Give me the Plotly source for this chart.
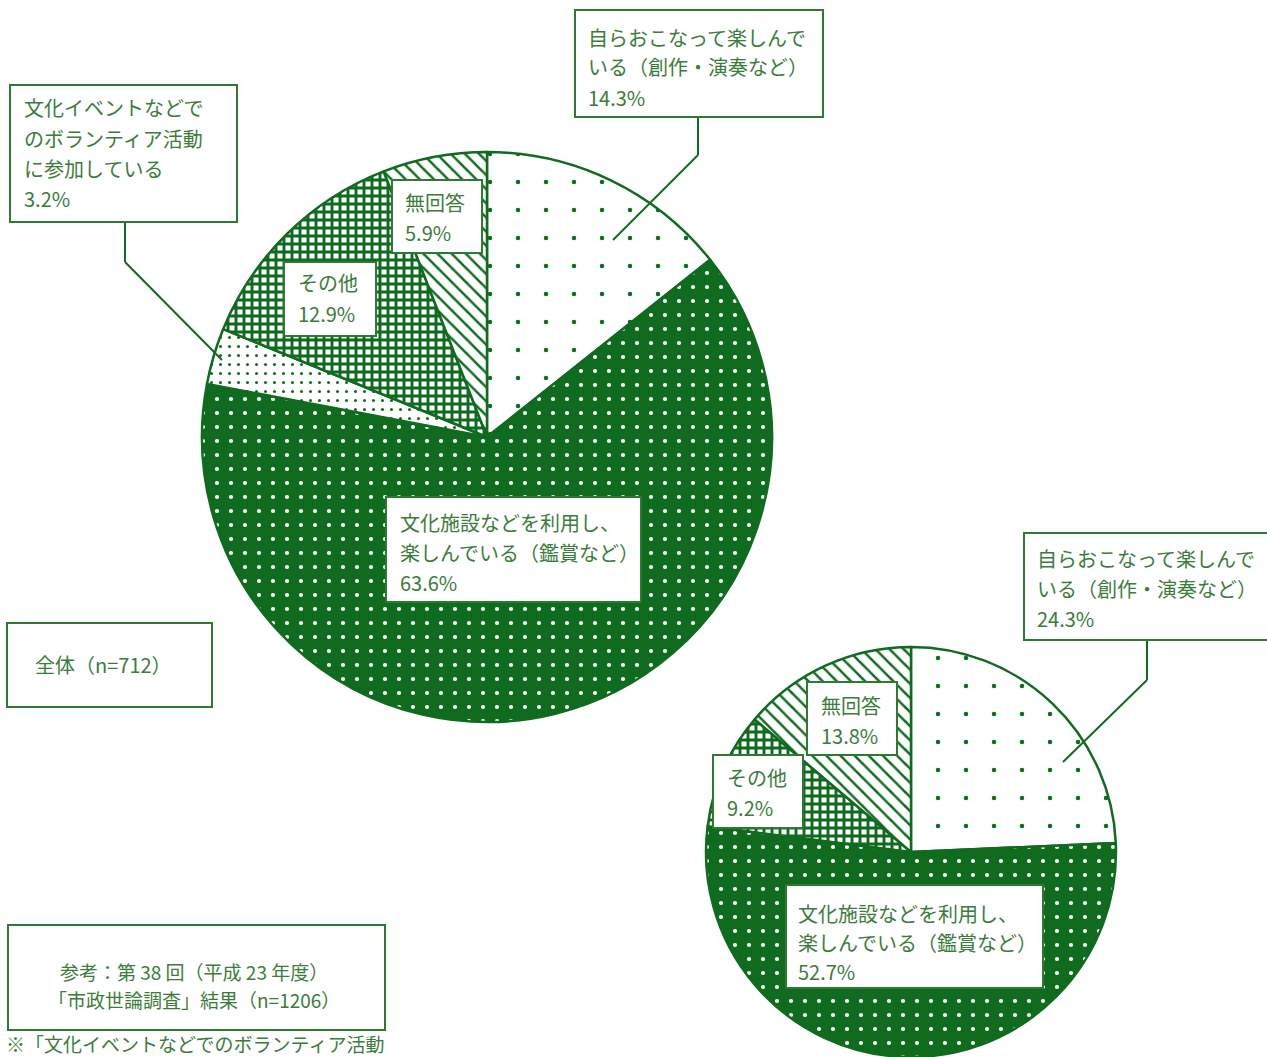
import plotly.graph_objects as go

W, H = 1267, 1057
GREEN = "#0f6b1e"
TEXT = "#3a7d3a"
BORDER = "#2f7a32"
FONT = "Noto Sans CJK JP"

# ---- data ----
cats_all = ["自らおこなって楽しんでいる（創作・演奏など）",
            "文化施設などを利用し、楽しんでいる（鑑賞など）",
            "文化イベントなどでのボランティア活動に参加している",
            "その他", "無回答"]
vals_all = [14.3, 63.6, 3.2, 12.9, 5.9]

cats_ref = ["自らおこなって楽しんでいる（創作・演奏など）",
            "文化施設などを利用し、楽しんでいる（鑑賞など）",
            "その他", "無回答"]
vals_ref = [24.3, 52.7, 9.2, 13.8]

title_all = "全体（n=712）"
title_ref = ["参考：第 38 回（平成 23 年度）", "「市政世論調査」結果（n=1206）"]
note_text = "※「文化イベントなどでのボランティア活動"

# pattern style per category
style = {
    cats_all[0]: dict(shape=".", bg="white", fg=GREEN, size=28, sol=0.02),
    cats_all[1]: dict(shape=".", bg=GREEN, fg="white", size=14, sol=0.07),
    cats_all[2]: dict(shape=".", bg="white", fg=GREEN, size=9, sol=0.09),
    "その他": dict(shape="+", bg="white", fg=GREEN, size=8, sol=0.6),
    "無回答": dict(shape="\\", bg="white", fg=GREEN, size=10, sol=0.25),
}


def px(x):
    return x / W


def py(y):
    return 1 - y / H


def pie(cats, vals, dom_x, dom_y):
    st = [style[c] for c in cats]
    return go.Pie(
        labels=cats, values=vals, sort=False, direction="clockwise",
        rotation=0, textinfo="none", hoverinfo="label+value",
        showlegend=False,
        domain=dict(x=dom_x, y=dom_y),
        marker=dict(
            colors=[s["bg"] for s in st],
            line=dict(color=GREEN, width=2.5),
            pattern=dict(
                shape=[s["shape"] for s in st],
                bgcolor=[s["bg"] for s in st],
                fgcolor=[s["fg"] for s in st],
                size=[s["size"] for s in st],
                solidity=[s["sol"] for s in st],
                fillmode="replace",
            ),
        ),
    )


fig = go.Figure()
fig.add_trace(pie(cats_all, vals_all, [px(202), px(772)], [py(722), py(152)]))
fig.add_trace(pie(cats_ref, vals_ref, [px(706), px(1116)], [0, py(647)]))

shapes = []
annots = []


def box(x0, y0, x1, y1, lines, tx, ty, dy=30, size=20, anchor="left"):
    shapes.append(dict(type="rect", xref="paper", yref="paper",
                       x0=px(x0), x1=px(x1), y0=py(y1), y1=py(y0),
                       fillcolor="white", line=dict(color=BORDER, width=2),
                       layer="above"))
    for i, t in enumerate(lines):
        annots.append(dict(text=t, xref="paper", yref="paper",
                           x=px(tx), y=py(ty + i * dy), xanchor=anchor,
                           yanchor="middle", showarrow=False, borderpad=0,
                           font=dict(family=FONT, size=size, color=TEXT)))


def leader(points):
    for (a, b) in zip(points[:-1], points[1:]):
        shapes.append(dict(type="line", xref="paper", yref="paper",
                           x0=px(a[0]), y0=py(a[1]), x1=px(b[0]), y1=py(b[1]),
                           line=dict(color=GREEN, width=2), layer="above"))


# leader lines
leader([(698, 117), (698, 155), (613, 240)])
leader([(125, 222), (125, 262), (222, 360)])
leader([(1147, 638), (1147, 680), (1063, 762)])

# big pie labels
box(575, 10, 823, 117, ["自らおこなって楽しんで", "いる（創作・演奏など）", f"{vals_all[0]}%"], 587, 37)
box(10, 85, 237, 222, ["文化イベントなどで", "のボランティア活動", "に参加している", f"{vals_all[2]}%"], 23, 108)
box(392, 180, 482, 253, [cats_all[4], f"{vals_all[4]}%"], 404, 203)
box(284, 262, 376, 336, [cats_all[3], f"{vals_all[3]}%"], 297, 283)
box(386, 497, 641, 602, ["文化施設などを利用し、", "楽しんでいる（鑑賞など）", f"{vals_all[1]}%"], 399, 522)
box(7, 623, 212, 707, [title_all], 103, 664, anchor="center")

# small pie labels
box(1024, 533, 1270, 640, ["自らおこなって楽しんで", "いる（創作・演奏など）", f"{vals_ref[0]}%"], 1036, 558)
box(807, 682, 897, 755, [cats_ref[3], f"{vals_ref[3]}%"], 820, 705)
box(713, 755, 803, 828, [cats_ref[2], f"{vals_ref[2]}%"], 726, 777)
box(786, 885, 1043, 988, ["文化施設などを利用し、", "楽しんでいる（鑑賞など）", f"{vals_ref[1]}%"], 797, 913, dy=29)
box(8, 925, 385, 1030, title_ref, 194, 971, dy=28, size=19, anchor="center")

annots.append(dict(text=note_text, xref="paper", yref="paper", x=px(5), y=py(1043),
                   xanchor="left", yanchor="middle", showarrow=False, borderpad=0,
                   font=dict(family=FONT, size=19, color=TEXT)))

fig.update_layout(
    width=W, height=H,
    margin=dict(l=0, r=0, t=0, b=0),
    paper_bgcolor="white", plot_bgcolor="white",
    shapes=shapes, annotations=annots,
)

fig.write_html("out.html", config={"displayModeBar": False},
               post_script="document.body.style.margin='0';document.body.style.overflow='hidden';")
